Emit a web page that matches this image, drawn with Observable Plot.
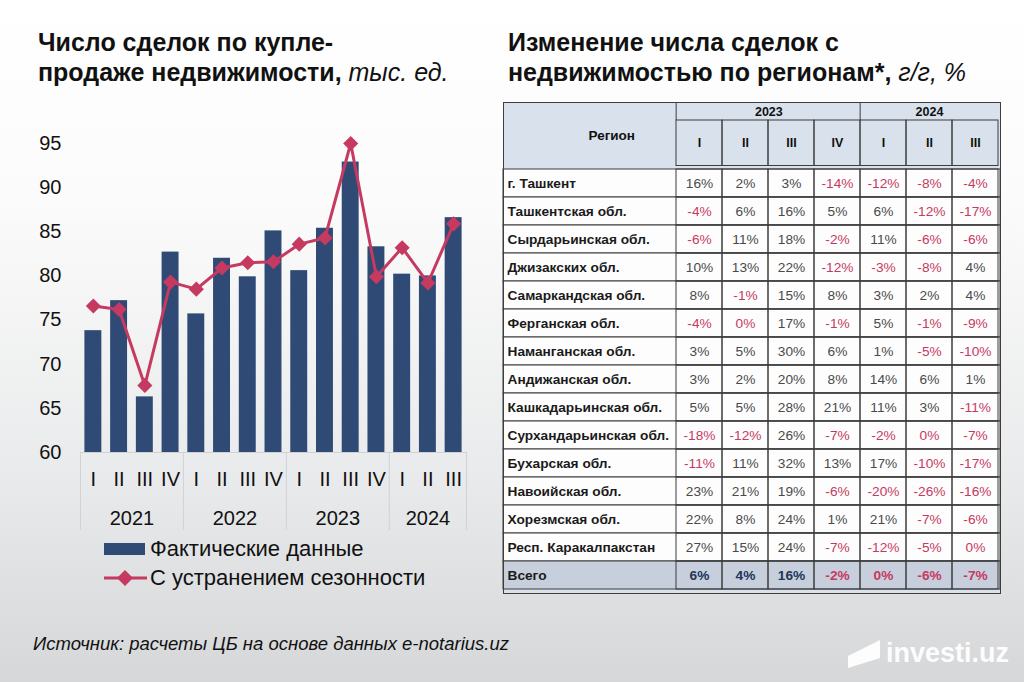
<!DOCTYPE html>
<html>
<head>
<meta charset="utf-8">
<script src="https://cdn.jsdelivr.net/npm/d3@7"></script>
<script src="https://cdn.jsdelivr.net/npm/@observablehq/plot@0.6"></script>
<style>
  html, body { margin: 0; padding: 0; }
  #page {
    position: relative; width: 1024px; height: 682px; overflow: hidden;
    background: linear-gradient(to bottom, #ffffff 0%, #fbfbfb 30%, #e9eaeb 70%, #d6d7d9 100%);
    font-family: "Liberation Sans", Arial, sans-serif; color: #111;
  }
  .title { position: absolute; font-size: 25px; font-weight: bold; line-height: 30px; white-space: nowrap; }
  .title i { font-weight: normal; }
  .abs { position: absolute; }
  .legend { position: absolute; left: 104px; font-size: 22px; white-space: nowrap; display: flex; align-items: center; }
  .legend svg { margin-right: 3px; }
  #source { position: absolute; left: 33px; top: 633px; font-size: 18.5px; font-style: italic; white-space: nowrap; }
  #wm { position: absolute; left: 846px; top: 636px; color: #fff; font-weight: bold; font-size: 27px; display:flex; align-items:center; opacity: 0.95; }
</style>
</head>
<body>
<div id="page">
  <div class="title" style="left:38px; top:27px;">Число сделок по купле-<br>продаже недвижимости, <i>тыс. ед.</i></div>
  <div class="title" style="left:508px; top:27px;">Изменение числа сделок с<br>недвижимостью по регионам*, <i>г/г, %</i></div>
  <div id="chart" class="abs" style="left:0; top:120px;"></div>
  <div id="table" class="abs" style="left:502px; top:101px;"></div>
  <div class="legend" style="top:536px;">
    <svg width="43" height="26"><rect x="0" y="7" width="41" height="12" fill="#2f4a74"></rect></svg>
    <span>Фактические данные</span>
  </div>
  <div class="legend" style="top:565px;">
    <svg width="43" height="26"><line x1="0" y1="13" x2="43" y2="13" stroke="#c63a62" stroke-width="3"></line><path d="M21,5 L29,13 L21,21 L13,13 Z" fill="#c63a62"></path></svg>
    <span>С устранением сезонности</span>
  </div>
  <div id="source">Источник: расчеты ЦБ на основе данных e-notarius.uz</div>
  <div id="wm"><svg width="36" height="34"><path d="M2,20 L34,4 L34,22 L2,32 Z" fill="#fff"></path></svg><span style="margin-left:4px">investi.uz</span></div>
</div>
<script>
// ---------- Left chart data ----------
const quarterLabels = ["I","II","III","IV","I","II","III","IV","I","II","III","IV","I","II","III"];
const quarterYears  = ["2021","2021","2021","2021","2022","2022","2022","2022","2023","2023","2023","2023","2024","2024","2024"];
const actualDeals   = [73.8, 77.2, 66.3, 82.7, 75.7, 82.0, 79.9, 85.1, 80.6, 85.4, 92.9, 83.3, 80.2, 80.0, 86.6];
const seasonallyAdjusted = [76.6, 76.2, 67.6, 79.3, 78.5, 80.9, 81.5, 81.6, 83.6, 84.3, 95.0, 79.9, 83.2, 79.2, 85.9];
const yTicks = [60, 65, 70, 75, 80, 85, 90, 95];

// ---------- Right table data ----------
const regions = ["г. Ташкент","Ташкентская обл.","Сырдарьинская обл.","Джизакских обл.","Самаркандская обл.","Ферганская обл.","Наманганская обл.","Андижанская обл.","Кашкадарьинская обл.","Сурхандарьинская обл.","Бухарская обл.","Навоийская обл.","Хорезмская обл.","Респ. Каракалпакстан","Всего"];
const columnYears    = ["2023","2023","2023","2023","2024","2024","2024"];
const columnQuarters = ["I","II","III","IV","I","II","III"];
// -0 marks a value that rounds to 0% from below (shown in red)
const yoyChanges = [
  [16, 2, 3, -14, -12, -8, -4],
  [-4, 6, 16, 5, 6, -12, -17],
  [-6, 11, 18, -2, 11, -6, -6],
  [10, 13, 22, -12, -3, -8, 4],
  [8, -1, 15, 8, 3, 2, 4],
  [-4, -0, 17, -1, 5, -1, -9],
  [3, 5, 30, 6, 1, -5, -10],
  [3, 2, 20, 8, 14, 6, 1],
  [5, 5, 28, 21, 11, 3, -11],
  [-18, -12, 26, -7, -2, -0, -7],
  [-11, 11, 32, 13, 17, -10, -17],
  [23, 21, 19, -6, -20, -26, -16],
  [22, 8, 24, 1, 21, -7, -6],
  [27, 15, 24, -7, -12, -5, -0],
  [6, 4, 16, -2, -0, -6, -7]
];
const totalLabel = "Всего";

const FONT = "'Liberation Sans', Arial, sans-serif";
const NAVY = "#2f4a74";
const RED = "#c63a62";

// ---------- Left chart ----------
const rows = quarterLabels.map((q, i) => ({i, q, year: quarterYears[i], actual: actualDeals[i], sa: seasonallyAdjusted[i]}));
const yearGroups = d3.groups(rows, d => d.year).map(([year, rs]) => ({year, mid: d3.mean(rs, d => d.i), last: d3.max(rs, d => d.i)}));
const separators = [rows[0].i - 0.5, ...yearGroups.map(g => g.last + 0.5)];

const W = 480, H = 420, mt = 23, mb = 88, ml = 80, mr = 14;
const chart = Plot.plot({
  width: W, height: H, marginTop: mt, marginBottom: mb, marginLeft: ml, marginRight: mr,
  style: {background: "transparent", fontFamily: FONT, fontSize: "20px", overflow: "visible"},
  x: {domain: [-0.5, rows.length - 0.5], axis: null},
  y: {domain: [yTicks[0], yTicks[yTicks.length - 1]]},
  marks: [
    Plot.ruleY([yTicks[0]], {stroke: "#d2d2d2"}),
    Plot.ruleX(separators, {x: d => d, stroke: "#d2d2d2", insetTop: H - mt - mb, insetBottom: -78}),
    Plot.rectY(rows, {x1: d => d.i - 0.5, x2: d => d.i + 0.5, y1: yTicks[0], y2: "actual", insetLeft: 4.4, insetRight: 4.4, fill: NAVY}),
    Plot.line(rows, {x: "i", y: "sa", stroke: RED, strokeWidth: 3}),
    Plot.dot(rows, {x: "i", y: "sa", symbol: "diamond2", r: 6.8, fill: RED, stroke: "none"}),
    Plot.axisY({ticks: yTicks, tickSize: 0, tickPadding: 19, fontSize: 20, color: "#111"}),
    Plot.text(rows, {x: "i", text: "q", frameAnchor: "bottom", lineAnchor: "middle", dy: 27, fontSize: 20, fill: "#111"}),
    Plot.text(yearGroups, {x: "mid", text: "year", frameAnchor: "bottom", lineAnchor: "middle", dy: 66, fontSize: 20, fill: "#111"})
  ]
});
document.getElementById("chart").appendChild(chart);

// ---------- Right table ----------
const colKeys = columnYears.map((y, j) => `${y}-${columnQuarters[j]}`);
const cells = [];
regions.forEach((r, k) => yoyChanges[k].forEach((v, j) => cells.push({region: r, col: colKeys[j], v, total: r === totalLabel})));
const isNeg = v => v < 0 || Object.is(v, -0);

const TW = 500, TH = 494, tml = 1, tmr = 2, tmt = 1, tmb = 2;
const regionColEnd = 171, yearRowEnd = 19, headerEnd = 64.5;
const xr = [regionColEnd, TW - tmr];
const step = (xr[1] - xr[0]) / colKeys.length;
const BORDER = "#3d3d3d";
const HDR = "#d9e1ec";

const yearCols = d3.groups(colKeys.map((k, j) => ({k, j, year: columnYears[j]})), d => d.year)
  .map(([year, cs]) => ({year, cols: cs}));
const yearTextMarks = yearCols.map(g => {
  const midPos = (g.cols.length - 1) / 2;
  const anchorCol = g.cols[Math.floor(midPos)].k;
  return Plot.text([g], {x: () => anchorCol, text: "year", frameAnchor: "top", lineAnchor: "middle", dy: (yearRowEnd - tmt) / 2,
    dx: (midPos - Math.floor(midPos)) * step, fontWeight: "bold", fontSize: 12.5, fill: "#111"});
});

const table = Plot.plot({
  width: TW, height: TH, marginLeft: tml, marginRight: tmr, marginTop: tmt, marginBottom: tmb,
  style: {background: "transparent", fontFamily: FONT, overflow: "visible"},
  x: {type: "band", domain: colKeys, range: xr, padding: 0, axis: null},
  y: {type: "band", domain: regions, range: [headerEnd, TH - tmb], padding: 0, axis: null},
  marks: [
    Plot.frame({fill: HDR, stroke: BORDER}),
    Plot.cell(regions, {y: d => d, fill: d => d === totalLabel ? "#c6cfdb" : "#fdfdfd", stroke: BORDER, strokeWidth: 1}),
    Plot.cell(cells, {x: "col", y: "region", fill: "none", stroke: BORDER, strokeWidth: 1}),
    Plot.cell(colKeys, {x: d => d, fill: "none", stroke: BORDER, insetTop: yearRowEnd - tmt, insetBottom: TH - tmb - headerEnd}),
    Plot.ruleX(yearCols.map(g => g.cols[0].k), {x: d => d, dx: -step / 2, stroke: BORDER, insetBottom: TH - tmb - yearRowEnd}),
    Plot.text(["Регион"], {frameAnchor: "top-left", lineAnchor: "middle", dx: (regionColEnd - tml) / 2, dy: 33, fontWeight: "bold", fontSize: 13.5, fill: "#111"}),
    ...yearTextMarks,
    Plot.text(colKeys, {x: d => d, text: (d, j) => columnQuarters[j], frameAnchor: "top", lineAnchor: "middle", dy: (yearRowEnd + headerEnd) / 2 - tmt, fontWeight: "bold", fontSize: 12.5, fill: "#111"}),
    Plot.text(regions, {y: d => d, text: d => d, frameAnchor: "left", dx: 4, textAnchor: "start", fontWeight: "bold", fontSize: 13.7, fill: "#1a1a1a"}),
    Plot.text(cells.filter(d => !d.total), {x: "col", y: "region", text: d => `${d.v}%`, fill: d => isNeg(d.v) ? RED : "#4a4a4a", fontSize: 13.7}),
    Plot.text(cells.filter(d => d.total), {x: "col", y: "region", text: d => `${d.v}%`, fill: d => isNeg(d.v) ? RED : "#22365a", fontSize: 13.7, fontWeight: "bold"}),
    Plot.frame({stroke: BORDER})
  ]
});
document.getElementById("table").appendChild(table);
</script>
</body>
</html>
